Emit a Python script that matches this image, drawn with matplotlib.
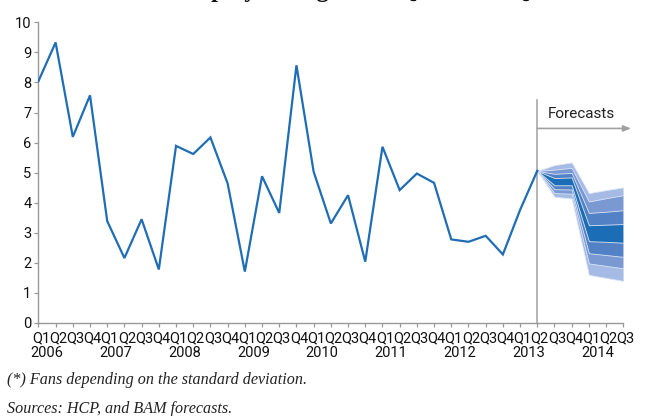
import matplotlib
matplotlib.use("Agg")
import matplotlib.pyplot as plt
import matplotlib.transforms as mtransforms
import numpy as np

plt.rcParams['font.family'] = ['Roboto', 'DejaVu Sans']

# ---------------- data ----------------
quarters = ["Q1", "Q2", "Q3", "Q4"] * 8 + ["Q1", "Q2", "Q3"]
years = ["2006", "2007", "2008", "2009", "2010", "2011", "2012", "2013", "2014"]
actual = [8.04, 9.33, 6.19, 7.57, 3.39, 2.16, 3.45, 1.78, 5.89, 5.62,
          6.17, 4.64, 1.71, 4.88, 3.66, 8.57, 5.03, 3.31, 4.25, 2.04,
          5.86, 4.42, 4.97, 4.66, 2.78, 2.70, 2.90, 2.28, 3.76, 5.06]
# forecast fan (Q2 2013 .. Q3 2014)
fan_lo4 = [5.06, 4.20, 4.14, 1.60, 1.50, 1.40]
fan_hi4 = [5.06, 5.25, 5.34, 4.32, 4.42, 4.51]
fan_lo3 = [5.06, 4.32, 4.30, 1.98, 1.90, 1.82]
fan_hi3 = [5.06, 5.10, 5.16, 4.04, 4.15, 4.25]
fan_lo2 = [5.06, 4.45, 4.44, 2.32, 2.26, 2.20]
fan_hi2 = [5.06, 4.96, 4.99, 3.66, 3.70, 3.75]
fan_lo1 = [5.06, 4.58, 4.58, 2.72, 2.70, 2.67]
fan_hi1 = [5.06, 4.82, 4.84, 3.25, 3.27, 3.29]
fan_colors = ["#a5bae4", "#7a99d3", "#5282c5", "#1b6db5"]

n = len(quarters)
x_all = np.arange(n)
x_act = x_all[:len(actual)]
x_fan = x_all[len(actual) - 1:]

fig = plt.figure(figsize=(6.48, 4.16), dpi=100)
ax = fig.add_axes([38.4 / 648, 1 - 323 / 416, (623.3 - 38.4) / 648, (323 - 22.3) / 416])

# fan
for lo, hi, c in zip([fan_lo4, fan_lo3, fan_lo2, fan_lo1],
                     [fan_hi4, fan_hi3, fan_hi2, fan_hi1], fan_colors):
    ax.fill_between(x_fan, lo, hi, color=c, lw=0.6, edgecolor="#dce5f5", zorder=2)

ax.plot(x_act, actual, color="#1f6db4", lw=1.6, zorder=3, solid_joinstyle="miter")

# forecast marker line & arrow
fx = len(actual) - 1
ax.plot([fx, fx], [0, 7.42], color="#a8a8a8", lw=1.2, zorder=1, clip_on=False)
ax.annotate("", xy=(34.45, 6.47), xytext=(fx, 6.47),
            arrowprops=dict(arrowstyle="-|>,head_length=0.45,head_width=0.18",
                            color="#a0a0a0", lw=1.2, shrinkA=0, shrinkB=0),
            annotation_clip=False)
ax.text(31.55, 6.95, "Forecasts", ha="center", va="center", fontsize=11, color="#222222")

ax.set_xlim(0, n - 1)
ax.set_ylim(0, 10)
ax.set_yticks(range(0, 11))
ax.set_xticks(x_all)
ax.set_xticklabels(quarters)
for s in ["top", "right"]:
    ax.spines[s].set_visible(False)
for s in ["left", "bottom"]:
    ax.spines[s].set_color("#9a9a9a")
    ax.spines[s].set_linewidth(1.0)
ax.tick_params(axis="both", colors="#9a9a9a", labelcolor="#111111", labelsize=10.5,
               length=3, width=0.9)
ax.tick_params(axis="x", pad=3)
ax.tick_params(axis="y", pad=2)
offset = mtransforms.ScaledTranslation(2.5 / 100, 0, fig.dpi_scale_trans)
for lbl in ax.get_xticklabels():
    lbl.set_transform(lbl.get_transform() + offset)

trans = mtransforms.blended_transform_factory(ax.transData, ax.transAxes)
for i, yr in enumerate(years):
    ax.text(4 * i + 0.5, -0.078, yr, transform=trans, ha="center", va="top",
            fontsize=10.5, color="#111111")

# footnotes
fig.text(7 / 648, 1 - 384 / 416, "(*) Fans depending on the standard deviation.",
         family="Liberation Serif", style="italic", fontsize=11.6, va="baseline", color="#222222")
fig.text(7 / 648, 1 - 413 / 416, "Sources: HCP, and BAM forecasts.",
         family="Liberation Serif", style="italic", fontsize=11.6, va="baseline", color="#222222")

# title (clipped at the top edge in the reference)
fig.text(174 / 648, 1 + 2.5 / 416, "Employment growth Q1 2006 \u2013 Q3 2014",
         family="Liberation Serif", weight="bold", fontsize=17.8, va="baseline", color="#111111")

fig.savefig("out.png", dpi=100)
